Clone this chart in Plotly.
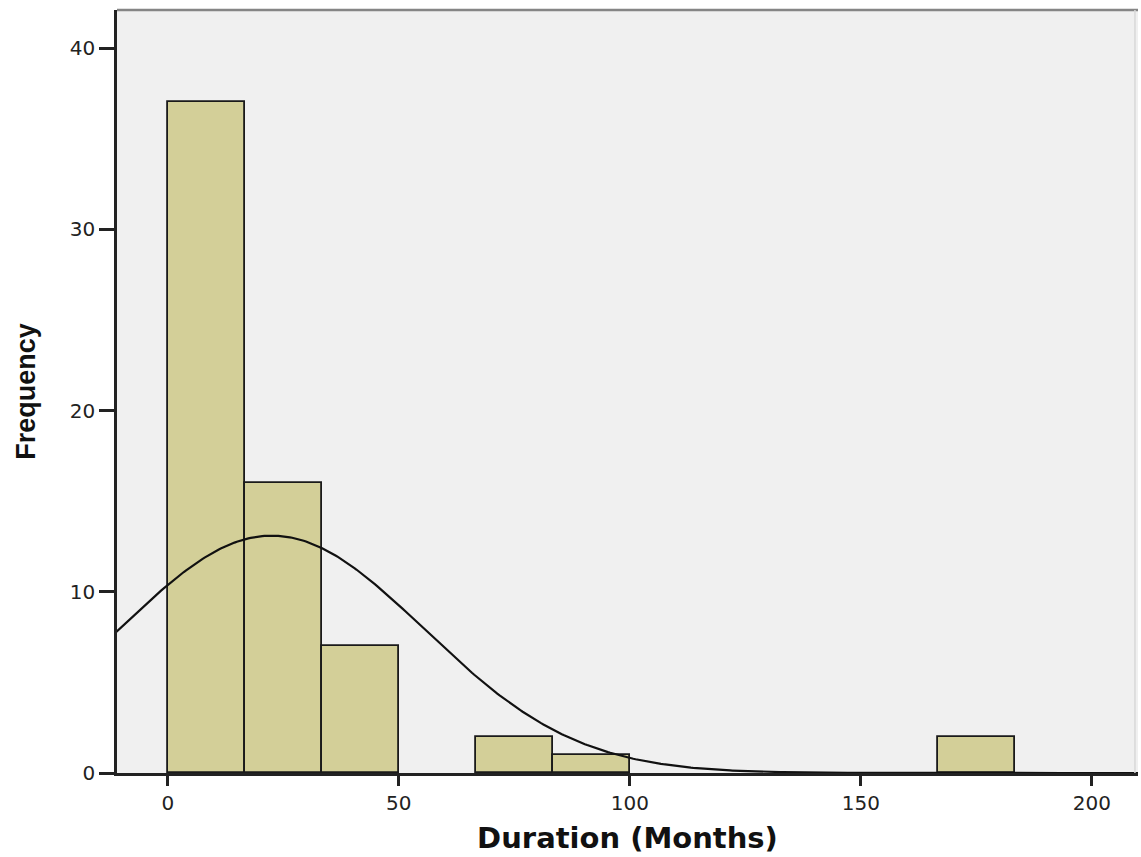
import numpy as np
import plotly.graph_objects as go

# Histogram data (bin edges in months, counts)
bin_left = [0.0, 16.667, 33.333, 66.667, 83.333, 166.667]
bin_width = 16.667
counts = [37, 16, 7, 2, 1, 2]

# Fitted normal curve parameters (as drawn by SPSS)
n_total = 65
curve_mean = 22.5
curve_sd = 33.0

x_ticks = [0, 50, 100, 150, 200]
y_ticks = [0, 10, 20, 30, 40]

centers = [b + bin_width / 2 for b in bin_left]

xs = np.linspace(-12, 212, 450)
ys = n_total * bin_width / (curve_sd * np.sqrt(2 * np.pi)) * np.exp(-(xs - curve_mean) ** 2 / (2 * curve_sd ** 2))

fig = go.Figure()
fig.add_trace(go.Bar(
    x=centers, y=counts, width=[bin_width] * len(counts),
    marker=dict(color="#D3CF98", line=dict(color="#1a1a1a", width=1.8)),
    showlegend=False, hoverinfo="skip",
))
fig.add_trace(go.Scatter(
    x=xs, y=ys, mode="lines",
    line=dict(color="#111111", width=2.2),
    showlegend=False, hoverinfo="skip",
))

fig.update_layout(
    width=1141, height=857,
    margin=dict(l=117, r=3, t=10, b=84),
    paper_bgcolor="white",
    plot_bgcolor="#F0F0F0",
    bargap=0,
    font=dict(family="DejaVu Sans, Verdana, sans-serif", color="#222222"),
    shapes=[
        dict(type="line", xref="paper", yref="paper", x0=0, y0=1, x1=1, y1=1,
             line=dict(color="#858585", width=2.5), layer="above"),
        dict(type="line", xref="paper", yref="paper", x0=0.997, y0=0, x1=0.997, y1=1,
             line=dict(color="#D8D8D8", width=1.5), layer="above"),
    ],
)
fig.update_xaxes(
    range=[-11.0, 210.0], tickvals=x_ticks, ticktext=[str(v) for v in x_ticks],
    showgrid=False, zeroline=False,
    ticks="outside", ticklen=10, tickwidth=2.5, tickcolor="#222222",
    showline=True, linecolor="#222222", linewidth=2.5,
    tickfont=dict(size=20, color="#222222"),
    title=dict(text="<b>Duration (Months)</b>", font=dict(family="DejaVu Sans, Verdana, sans-serif", size=29, color="#111111"), standoff=14),
)
fig.update_yaxes(
    range=[0, 42.1], tickvals=y_ticks, ticktext=[str(v) for v in y_ticks],
    showgrid=False, zeroline=False,
    ticks="outside", ticklen=15, tickwidth=2.5, tickcolor="#222222",
    showline=True, linecolor="#222222", linewidth=2.5,
    tickfont=dict(size=20, color="#222222"),
    title=dict(text="<b>Frequency</b>", font=dict(family="Liberation Sans, Arial, sans-serif", size=27, color="#111111"), standoff=27),
)

fig.write_html("out.html")
